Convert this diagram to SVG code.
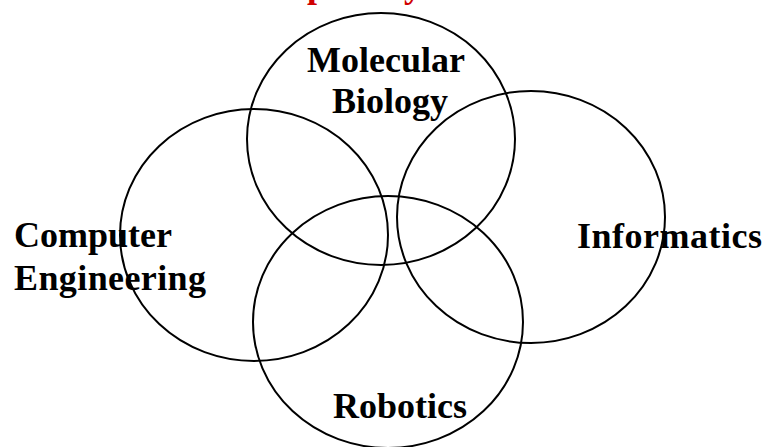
<svg xmlns="http://www.w3.org/2000/svg" width="765" height="447" viewBox="0 0 765 447">
<style>
.c{fill:none;stroke:#000;stroke-width:2}
.t{font-family:"Liberation Serif","Times New Roman",serif;font-weight:bold;font-size:36px;fill:#000}
.r{font-family:"Liberation Serif","Times New Roman",serif;font-weight:bold;font-size:36px;fill:#d00000}
</style>
<rect width="765" height="447" fill="#fff"/>
<g id="title">
<text class="r" x="307" y="-3">p</text>
<text class="r" x="404" y="-3">y</text>
</g>
<g id="molecular-biology">
<ellipse class="c" cx="381" cy="139" rx="134" ry="126"/>
<text class="t" x="307" y="72">Molecular</text>
<text class="t" x="332" y="113">Biology</text>
</g>
<g id="computer-engineering">
<ellipse class="c" cx="254" cy="235" rx="134" ry="126"/>
<text class="t" x="14" y="247">Computer</text>
<text class="t" x="14" y="290" textLength="192">Engineering</text>
</g>
<g id="informatics">
<ellipse class="c" cx="531" cy="217" rx="134" ry="126"/>
<text class="t" x="577" y="248" textLength="185">Informatics</text>
</g>
<g id="robotics">
<ellipse class="c" cx="388" cy="322" rx="135" ry="126"/>
<text class="t" x="333" y="418">Robotics</text>
</g>
<g id="connectors"></g>
</svg>
